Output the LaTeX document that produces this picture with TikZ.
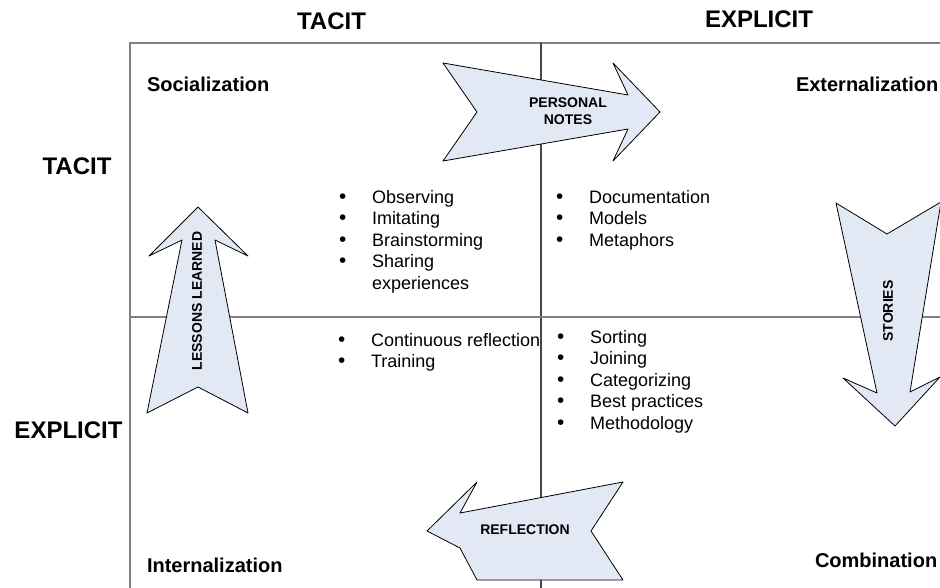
\documentclass[tikz,border=0pt]{standalone}
\usepackage{fontspec}
\usepackage{graphicx}
\setmainfont{Liberation Sans}
\definecolor{pale}{RGB}{226,233,245}
\definecolor{rulegray}{RGB}{128,128,128}
\definecolor{darkline}{RGB}{70,70,70}
\begin{document}
\begin{tikzpicture}[x=1pt, y=-1pt, line join=round, line cap=round]
	\tikzset{every node/.style={inner sep=0pt, outer sep=0pt},
		head/.style={font=\fontsize{24}{28}\selectfont\bfseries, anchor=base},
		corner/.style={font=\fontsize{20}{24}\selectfont\bfseries, anchor=base west},
		items/.style={font=\fontsize{18}{21.5}\selectfont, anchor=north west, align=left},
		bigarrow/.style={draw=black, fill=pale, line width=0.8pt},
		tag/.style={font=\fontsize{14}{17}\selectfont\bfseries, align=center}}
	\newcommand{\bul}{\makebox[33pt][l]{\scalebox{1.15}{\textbullet}}}
	\useasboundingbox (0,0) rectangle (940,588);
	\clip (0,0) rectangle (940,588);
	%Vẽ khung
	\draw[rulegray, line width=2pt] (130,43)--(940,43);
	\draw[rulegray, line width=2.5pt, line cap=butt] (130,42)--(130,588);
	\draw[darkline, line width=1.1pt] (541,43)--(541,588);
	\draw[rulegray, line width=1.4pt] (130,317)--(940,317);
	%Vẽ các tiêu đề
	\node[head] (topTacit) at (331.5,30) {TACIT};
	\node[head] (topExplicit) at (759,28) {EXPLICIT};
	\node[head] (leftTacit) at (77,175) {TACIT};
	\node[head] (leftExplicit) at (68.5,438) {EXPLICIT};
	\node[corner] (social) at (147,92) {Socialization};
	\node[corner] (external) at (796,92) {Externalization};
	\node[corner] (internal) at (147,572) {Internalization};
	\node[corner] (combine) at (815,567) {Combination};
	%Vẽ các danh sách
	\node[items] (listSocial) at (339,190) {\bul Observing\\ \bul Imitating\\ \bul Brainstorming\\ \bul Sharing\\ \hspace*{33pt}experiences};
	\node[items] (listExternal) at (556,190) {\bul Documentation\\ \bul Models\\ \bul Metaphors};
	\node[items] (listInternal) at (338,333) {\bul Continuous reflection\\ \bul Training};
	\node[items] (listCombine) at (557,330) {\bul Sorting\\ \bul Joining\\ \bul Categorizing\\ \bul Best practices\\ \bul Methodology};
	%Vẽ các mũi tên
	\draw[bigarrow] (443,63)--(628,95)--(613,63)--(660,112)--(613,161)--(628,129)--(443,161)--(477,112)--cycle;
	\node[tag] (notes) at (568,111) {PERSONAL\\NOTES};
	\draw[bigarrow] (147,413)--(182,240)--(149,256)--(198,207)--(248,256)--(215,240)--(248,413)--(198,387)--cycle;
	\node[tag, rotate=90] (lessons) at (197,301) {LESSONS LEARNED};
	\draw[bigarrow] (836,203)--(887,234)--(941,202)--(910,392)--(940,377)--(895,426)--(843,378)--(877,393)--cycle;
	\node[tag, rotate=90] (stories) at (888,311) {STORIES};
	\draw[bigarrow] (427,531)--(477,482)--(460,513)--(623,482)--(591,531)--(623,580)--(477,580)--(460,548)--cycle;
	\node[tag] (reflect) at (525,530) {REFLECTION};
\end{tikzpicture}
\end{document}
